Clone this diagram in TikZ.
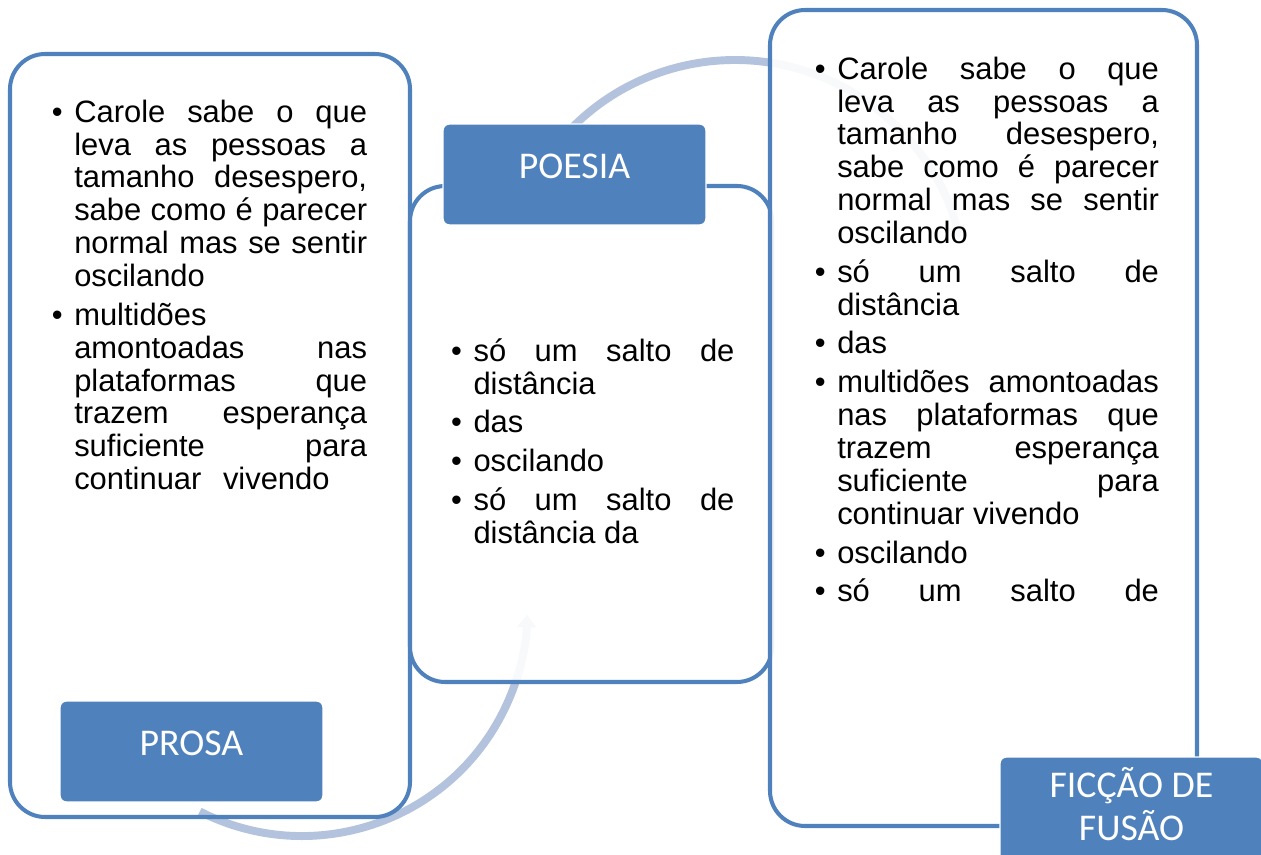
\documentclass[tikz,border=0pt]{standalone}
\usepackage{fontspec}
\setmainfont{Liberation Sans}
\newfontfamily\calibri{Carlito}
\usetikzlibrary{arrows.meta}
\definecolor{azul}{RGB}{79,129,189}
\definecolor{claro}{RGB}{179,194,221}
\newenvironment{pontos}{\list{\textbullet}{%
  \setlength\leftmargin{14pt}\setlength\labelsep{6.6pt}%
  \setlength\labelwidth{7.4pt}\setlength\itemsep{3.4pt}%
  \setlength\parsep{0pt}\setlength\topsep{0pt}\setlength\partopsep{0pt}}%
  \hyphenpenalty=10000 \tolerance=10000 \hbadness=10000 }{\endlist}
\newcommand\etiqueta[1]{\raisebox{2.5pt}[\height][\depth]{\begin{tabular}{@{}c@{}}#1\end{tabular}}}
\tikzset{
  painel/.style = {draw=azul, line width=2.3pt, rounded corners=20pt},
  veu/.style = {fill=white, fill opacity=0.9},
  seta/.style = {draw=claro, line width=4.5pt, -{Triangle[width=10.5pt,length=7pt]}},
  lista/.style = {anchor=north west, inner sep=0pt, align=justify,
    font=\fontsize{17.6}{18.7}\selectfont},
  etq/.style = {fill=azul, draw=white, line width=0.8pt, rounded corners=3.5pt,
    inner sep=0pt, minimum width=5.26cm, minimum height=2.02cm, text=white,
    font=\calibri\fontsize{21.5}{23.8}\selectfont}
}

\begin{document}
\begin{tikzpicture}[x=0.02cm, y=0.02cm]
  \useasboundingbox (0,0) rectangle (1261,-855);
  \coordinate (c1) at (302,-611);
  \coordinate (c2) at (735,-290);

  % setas e paineis
  \draw[seta] (c1) ++(243:225) arc[start angle=243, end angle=359, radius=225];
  \draw[painel] (10,-54) rectangle (410,-817);
  \draw[painel, veu] (410,-186) rectangle (772,-682);
  \draw[seta] (c2) ++(140:230) arc[start angle=140, end angle=13, radius=230];
  \draw[painel, veu] (770,-10) rectangle (1197,-826);

  % textos
  \node[lista, text width=180.7pt] (prosatxt) at (49.3,-89) {\begin{pontos}
    \item Carole sabe o que\linebreak leva as pessoas a\linebreak tamanho desespero,\linebreak
      sabe como é parecer\linebreak normal mas se sentir\linebreak oscilando
    \item multidões\linebreak amontoadas nas\linebreak plataformas que\linebreak
      trazem esperança\linebreak suficiente para\linebreak continuar\hspace{12.3pt}vivendo
  \end{pontos}};
  \node[lista, text width=162.5pt] (poesiatxt) at (448.6,-328) {\begin{pontos}
    \item só um salto de\linebreak distância
    \item das
    \item oscilando
    \item só um salto de\linebreak distância da
  \end{pontos}};
  \node[lista, text width=197.1pt] (fusaotxt) at (812.3,-46) {\begin{pontos}
    \item Carole sabe o que\linebreak leva as pessoas a\linebreak tamanho desespero,\linebreak
      sabe como é parecer\linebreak normal mas se sentir\linebreak oscilando
    \item só um salto de\linebreak distância
    \item das
    \item multidões amontoadas\linebreak nas plataformas que\linebreak trazem esperança\linebreak
      suficiente para\linebreak continuar vivendo
    \item oscilando
    \item {\parfillskip=0pt só um salto de\par}
  \end{pontos}};

  % etiquetas
  \node[etq] (prosa) at (191.5,-751.5) {\etiqueta{PROSA}};
  \node[etq] (poesia) at (574.5,-174.5) {\etiqueta{POESIA}};
  \node[etq, minimum height=2.3cm] (fusao) at (1131.5,-814.5) {\etiqueta{FICÇÃO DE\\FUSÃO}};
\end{tikzpicture}
\end{document}
